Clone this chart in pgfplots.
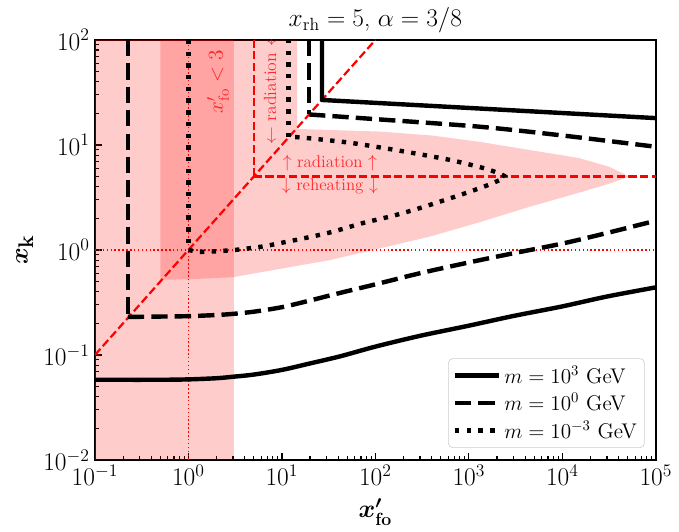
\documentclass[border=0pt]{standalone}
\usepackage{amsmath}
\usepackage{pgfplots}
\pgfplotsset{compat=1.18}
\begin{document}
\begin{tikzpicture}
\useasboundingbox (-64.5pt,-48.9pt) rectangle (396.7pt,312.4pt);
\begin{axis}[
  at={(0,0)}, anchor=south west,
  scale only axis, width=381pt, height=285.3pt,
  xmode=log, ymode=log,
  xmin=0.1, xmax=1e5, ymin=0.01, ymax=100,
  tick pos=left, tick align=inside,
  major tick length=5pt, minor tick length=3pt,
  every tick/.style={black, line width=0.8pt},
  axis line style={line width=0.9pt},
  tick label style={font=\fontsize{17}{20}\selectfont},
  xtick={0.1,1,10,100,1000,10000,100000},
  ytick={0.01,0.1,1,10,100},
  title={$x_{\rm rh} = 5$, $\alpha = 3/8$},
  title style={font=\fontsize{17}{20}\selectfont, yshift=-5pt},
  xlabel={$\boldsymbol{x'_{\rm fo}}$},
  ylabel={$\boldsymbol{x_{\rm k}}$},
  label style={font=\fontsize{19}{22}\selectfont},
  xlabel style={font=\fontsize{18}{21}\selectfont, inner sep=0pt, yshift=-5pt},
  legend cell align=left,
  legend image code/.code={\draw[#1] (0pt,0pt) -- (30pt,0pt);},
  legend style={at={(rel axis cs:0.98,0.0285)}, anchor=south east,
    draw=black!20, rounded corners=3pt, fill=white,
    font=\fontsize{14.4}{17}\selectfont, row sep=1.5pt, inner xsep=3pt, inner ysep=3pt},
]
% shaded regions
\addplot[fill=red, fill opacity=0.2, draw=red, draw opacity=0.2, forget plot]
  coordinates {(0.1,0.01) (3,0.01) (3,100) (0.1,100)} -- cycle;
\addplot[fill=red, fill opacity=0.2, draw=none, forget plot]
  coordinates {(0.5,0.52) (0.5,100) (14.5,100) (14.5,14.2) (30,13.9) (112,13.4) (400,12.3)
  (1300,10.7) (5000,8.8) (15000,7.5) (31600,6.2) (52000,5.0) (31600,4.27) (15800,3.55)
  (4490,2.58) (1260,1.82) (383,1.34) (100,1.01) (32.6,0.80) (10,0.665) (3,0.55) (1,0.525)} -- cycle;
% red guide lines
\addplot[red, line width=1.5pt, dash pattern=on 5.55pt off 2.4pt, forget plot]
  coordinates {(0.1,0.1) (100,100)};
\addplot[red, line width=1.5pt, dash pattern=on 5.55pt off 2.4pt, forget plot]
  coordinates {(5,5) (100000,5)};
\addplot[red, line width=1.5pt, dash pattern=on 5.55pt off 2.4pt, forget plot]
  coordinates {(5,5) (5,100)};
\addplot[red, line width=1pt, dash pattern=on 1pt off 1.65pt, forget plot]
  coordinates {(0.1,1) (100000,1)};
\addplot[red, line width=1pt, dash pattern=on 1pt off 1.65pt, forget plot]
  coordinates {(1,0.01) (1,100)};
% m = 1e3 GeV
\addplot[black, line width=3pt, line join=round, smooth, tension=0.5]
  coordinates {(0.1,0.058) (0.5,0.058) (1,0.0585) (2,0.0600) (3,0.062) (5,0.065) (10,0.072)
  (20,0.083) (42,0.097) (100,0.12) (300,0.152) (1000,0.19) (3000,0.235) (10000,0.29)
  (30000,0.36) (100000,0.44)};
\addlegendentry{$m = 10^{3}$ GeV}
\addplot[black, line width=3pt, line join=round, forget plot]
  coordinates {(26.8,100) (26.8,26.8) (100000,18)};
% m = 1e0 GeV
\addplot[black, line width=3pt, line join=round, dash pattern=on 11.1pt off 4.8pt, smooth, tension=0.5]
  coordinates {(0.225,0.23) (0.5,0.232) (1,0.234) (2,0.240) (3,0.246) (5,0.258)
  (10,0.285) (20,0.33) (42,0.39) (100,0.47) (300,0.6) (1000,0.76) (3000,0.93)
  (10000,1.15) (30000,1.45) (100000,1.9)};
\addlegendentry{$m = 10^{0}$ GeV}
\addplot[black, line width=3pt, line join=round, dash pattern=on 11.1pt off 4.8pt, forget plot]
  coordinates {(0.225,100) (0.225,0.23)};
\addplot[black, line width=3pt, line join=round, dash pattern=on 11.1pt off 4.8pt, forget plot]
  coordinates {(19.5,100) (19.5,19.5)};
\addplot[black, line width=3pt, line join=round, dash pattern=on 11.1pt off 4.8pt, smooth, tension=0.5, forget plot]
  coordinates {(19.5,19.5) (100,17.6) (1310,14.9) (10000,12.3) (100000,9.6)};
% m = 1e-3 GeV
\addplot[black, line width=3pt, line join=round, dash pattern=on 3pt off 4.95pt, smooth, tension=0.4]
  coordinates {(1,1) (1.3,0.96) (2,0.97) (3.5,1.01) (6.3,1.08) (10,1.17) (21,1.34)
  (35,1.49) (73,1.8) (150,2.1) (276,2.45) (500,2.9) (944,3.5) (1550,4.1) (2100,4.6)
  (2450,5.0) (1550,5.9) (626,7.2) (183,8.8) (53,10.5) (15.6,11.8) (11.7,11.9)};
\addlegendentry{$m = 10^{-3}$ GeV}
\addplot[black, line width=3pt, dash pattern=on 3pt off 4.95pt, forget plot]
  coordinates {(1,100) (1,1)};
\addplot[black, line width=3pt, dash pattern=on 3pt off 4.95pt, forget plot]
  coordinates {(11.7,11.9) (11.7,100)};
% annotations
\node[rotate=90, text=red, text opacity=0.8, font=\fontsize{14.5}{17}\selectfont]
  at (axis cs:2.07,40) {$x'_{\rm fo} < 3$};
\node[rotate=90, text=red, text opacity=0.8, font=\fontsize{12}{14}\selectfont]
  at (axis cs:7.45,35.7) {$\leftarrow$ radiation $\leftarrow$};
\node[text=red, text opacity=0.8, font=\fontsize{11.5}{13}\selectfont]
  at (axis cs:32.6,6.75) {$\uparrow$ radiation $\uparrow$};
\node[text=red, text opacity=0.8, font=\fontsize{11.5}{13}\selectfont]
  at (axis cs:32.6,4.07) {$\downarrow$ reheating $\downarrow$};
\end{axis}
\end{tikzpicture}
\end{document}
